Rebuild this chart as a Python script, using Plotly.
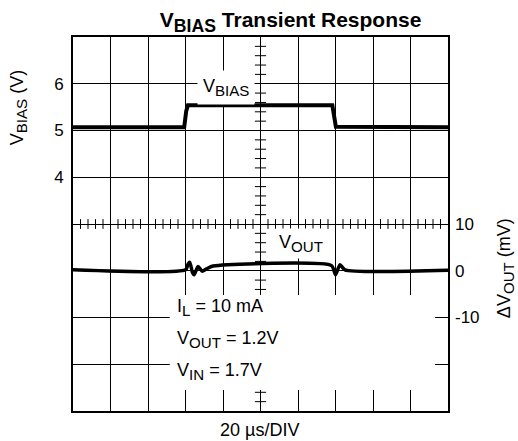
import plotly.graph_objects as go

# ---- data (time in microseconds) ----
vbias_t = [0, 59.3, 60.4, 61.3, 138.3, 139.3, 140.2, 200]
vbias_v = [5.07, 5.07, 5.42, 5.54, 5.54, 5.3, 5.08, 5.07]

vout_t = [0, 60.0, 61.4, 62.3, 63.7, 64.6, 66.7, 68.9, 71.2, 74.7, 137.9, 140.0, 142.4, 145.0, 200]
vout_mv = [0.2, 0.2, 1.45, 1.8, -0.35, -0.85, 0.9, -0.1, 0.4, 1.0, 1.1, -0.85, 1.3, 0.2, 0.1]

left_tickvals = [4, 5, 6]
left_ticktext = ["4", "5", "6"]
right_tickvals = [-10, 0, 10]
right_ticktext = ["-10", "0", "10"]

# minor graticule ticks on the centre lines
minor_x = [t for t in range(0, 201, 4) if t % 20 != 0]
minor_y = [round(-1 + 0.2 * k, 2) for k in range(41) if k % 5 != 0]

FONT = "Liberation Sans, Arial, sans-serif"
FS = 18

fig = go.Figure()

fig.add_trace(go.Scatter(x=minor_x, y=[3] * len(minor_x), mode="markers",
                         marker=dict(symbol="line-ns", size=7, line=dict(width=1, color="black")),
                         hoverinfo="skip", showlegend=False))
fig.add_trace(go.Scatter(x=[100] * len(minor_y), y=minor_y, mode="markers",
                         marker=dict(symbol="line-ew", size=8, line=dict(width=1, color="black")),
                         hoverinfo="skip", showlegend=False))

fig.add_trace(go.Scatter(x=vbias_t, y=vbias_v, mode="lines",
                         line=dict(color="black", width=4), showlegend=False))
fig.add_trace(go.Scatter(x=vout_t, y=vout_mv, mode="lines", yaxis="y2",
                         line=dict(color="black", width=3.5, shape="spline", smoothing=0.6),
                         showlegend=False))

# white box behind the condition text
fig.add_shape(type="rect", xref="x", yref="y", x0=51.6, x1=193.1, y0=-0.55, y1=1.48,
              fillcolor="white", line=dict(width=0), layer="above")

def sub(s):
    return '<sub><span style="font-size:120%">' + s + '</span></sub>'

ann = []
ann.append(dict(x=81.5, y=5.92, xref="x", yref="y", text="V" + sub("BIAS"), showarrow=False,
                xanchor="center", yanchor="middle",
                bgcolor="white", borderpad=5, font=dict(size=FS, family=FONT, color="black")))
ann.append(dict(x=121.8, y=2.58, xref="x", yref="y", text="V" + sub("OUT"), showarrow=False,
                xanchor="center", yanchor="middle",
                bgcolor="white", borderpad=3, font=dict(size=FS, family=FONT, color="black")))
for yy, txt in [(1.21, "I" + sub("L") + " = 10 mA"),
                (0.52, "V" + sub("OUT") + " = 1.2V"),
                (-0.15, "V" + sub("IN") + " = 1.7V")]:
    ann.append(dict(x=54.5, y=yy, xref="x", yref="y", xanchor="left", yanchor="middle",
                    text=txt, showarrow=False,
                    font=dict(size=FS, family=FONT, color="black")))
ann.append(dict(x=0.497, y=-0.051, xref="paper", yref="paper", text="20 µs/DIV", showarrow=False,
                xanchor="center", yanchor="middle",
                font=dict(size=FS, family=FONT, color="black")))
ann.append(dict(x=-0.146, y=0.81, xref="paper", yref="paper", text="V" + sub("BIAS") + " (V)",
                xanchor="center", yanchor="middle",
                textangle=-90, showarrow=False, font=dict(size=FS, family=FONT, color="black")))
ann.append(dict(x=1.152, y=0.382, xref="paper", yref="paper", text="ΔV" + sub("OUT") + " (mV)",
                xanchor="center", yanchor="middle",
                textangle=-90, showarrow=False, font=dict(size=FS, family=FONT, color="black")))

fig.update_layout(
    width=518, height=441,
    margin=dict(l=73, r=70, t=37, b=30),
    paper_bgcolor="white", plot_bgcolor="white",
    font=dict(family=FONT, size=FS, color="black"),
    title=dict(text="<b>V" + sub("BIAS") + " Transient Response</b>", x=0.561, xanchor="center",
               y=0.955, yanchor="middle", font=dict(size=21, family=FONT, color="black")),
    xaxis=dict(range=[0, 200], tick0=0, dtick=20, showticklabels=False, ticks="",
               showgrid=True, gridcolor="black", gridwidth=1, zeroline=False,
               showline=True, linecolor="black", linewidth=2, mirror=True, fixedrange=True),
    yaxis=dict(range=[-1, 7], tickvals=left_tickvals, ticktext=left_ticktext, ticks="",
               showgrid=True, gridcolor="black", gridwidth=1, zeroline=False,
               minor=dict(tick0=0, dtick=1, showgrid=True, gridcolor="black", gridwidth=1, ticks=""),
               showline=True, linecolor="black", linewidth=2, mirror=True,
               tickfont=dict(size=17, family=FONT, color="black"), ticklabelstandoff=4),
    yaxis2=dict(range=[-30, 50], tickvals=right_tickvals, ticktext=right_ticktext, ticks="",
                overlaying="y", side="right", showgrid=False, zeroline=False, showline=False,
                tickfont=dict(size=17, family=FONT, color="black"), ticklabelstandoff=6),
    annotations=ann,
    showlegend=False,
)

fig.write_html("out.html", config={"displayModeBar": False},
               post_script="document.body.style.margin='0';document.body.style.overflow='hidden';")
